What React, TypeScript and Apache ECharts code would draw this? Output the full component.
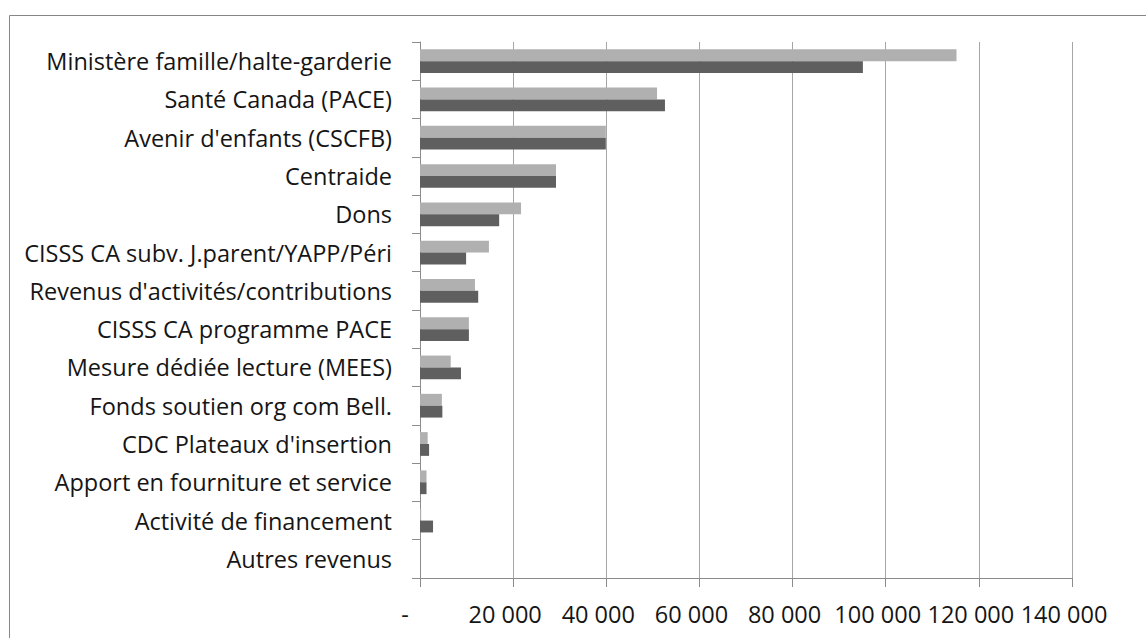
import React, { useEffect, useRef } from "react";
import * as echarts from "echarts";

const categories = [
  "Ministère famille/halte-garderie",
  "Santé Canada (PACE)",
  "Avenir d'enfants (CSCFB)",
  "Centraide",
  "Dons",
  "CISSS CA subv. J.parent/YAPP/Péri",
  "Revenus d'activités/contributions",
  "CISSS CA programme PACE",
  "Mesure dédiée lecture (MEES)",
  "Fonds soutien org com Bell.",
  "CDC Plateaux d'insertion",
  "Apport en fourniture et service",
  "Activité de financement",
  "Autres revenus",
];

const seriesLight = [115200, 50900, 39900, 29200, 21700, 14800, 11800, 10500, 6600, 4700, 1650, 1400, 250, 0];
const seriesDark = [95100, 52600, 39900, 29200, 17000, 9900, 12500, 10500, 8800, 4800, 1950, 1400, 2800, 0];

const xTicks = [0, 20000, 40000, 60000, 80000, 100000, 120000, 140000];

const FONT = "'Open Sans', 'Noto Sans', sans-serif";
const TEXT = "#151515";
const FS = 23.5;

function fmt(v: number): string {
  return String(v).replace(/\B(?=(\d{3})+(?!\d))/g, " ");
}

export default function App() {
  const ref = useRef<HTMLDivElement>(null);
  useEffect(() => {
    document.body.style.margin = "0";
    const chart = echarts.init(ref.current!, undefined, { renderer: "svg" });
    chart.setOption({
      animation: false,
      backgroundColor: "#ffffff",
      grid: { left: 420, right: 74, top: 42, bottom: 60, containLabel: false },
      graphic: [
        {
          type: "rect",
          shape: { x: 9.5, y: 15.5, width: 1200, height: 700 },
          style: { fill: "none", stroke: "#868686", lineWidth: 1 },
          silent: true,
        },
      ],
      xAxis: {
        type: "value",
        min: xTicks[0],
        max: xTicks[xTicks.length - 1],
        interval: xTicks[1] - xTicks[0],
        axisLine: { show: true, lineStyle: { color: "#8c8c8c", width: 1 } },
        axisTick: { show: true, length: 9, lineStyle: { color: "#8c8c8c" } },
        splitLine: { show: true, lineStyle: { color: "#a6a6a6", width: 1 } },
        axisLabel: {
          margin: 24,
          color: TEXT,
          fontFamily: FONT,
          fontSize: FS,
          formatter: (v: number) => (v === 0 ? "{z|-}" : "{n|" + fmt(v) + "}"),
          rich: {
            z: { padding: [0, 30, 0, 0], fontFamily: FONT, fontSize: FS, color: TEXT },
            n: { padding: [0, 16, 0, 0], fontFamily: FONT, fontSize: FS, color: TEXT },
          },
        },
      },
      yAxis: {
        type: "category",
        inverse: true,
        data: categories,
        axisLine: { show: true, lineStyle: { color: "#8c8c8c", width: 1 } },
        axisTick: { show: true, length: 8, lineStyle: { color: "#8c8c8c" } },
        axisLabel: {
          margin: 28,
          color: TEXT,
          fontFamily: FONT,
          fontSize: FS,
        },
      },
      series: [
        {
          type: "bar",
          name: "Série 1",
          data: seriesLight,
          barGap: "0%",
          barCategoryGap: "38%",
          itemStyle: { color: "#b0b0b0" },
        },
        {
          type: "bar",
          name: "Série 2",
          data: seriesDark,
          barGap: "0%",
          barCategoryGap: "38%",
          itemStyle: { color: "#5f5f5f" },
        },
      ],
    });
    return () => chart.dispose();
  }, []);
  return <div ref={ref} style={{ width: 1146, height: 638 }} />;
}
